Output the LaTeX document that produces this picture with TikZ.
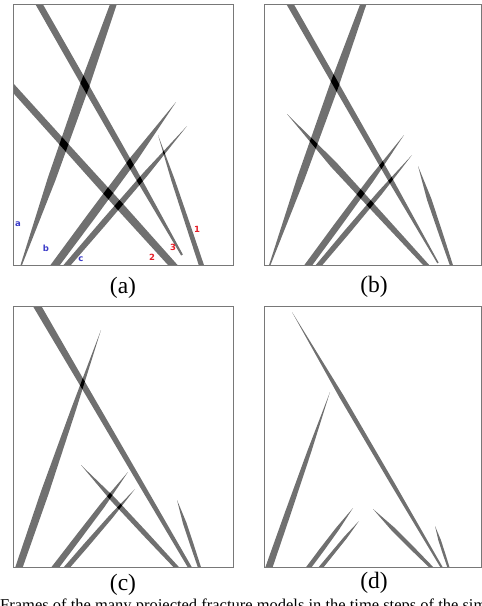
\documentclass[tikz,border=0pt]{standalone}
\usepackage{fontspec}
\setmainfont{Liberation Serif}
\newfontfamily\lblfont{DejaVu Sans}
\usetikzlibrary{calc}
\definecolor{frgray}{RGB}{112,112,112}
\definecolor{framegray}{RGB}{120,120,120}
\definecolor{lblblue}{RGB}{60,60,200}
\definecolor{lblred}{RGB}{230,30,40}
% fracture: P, Q, full widths at t=0, .33, .67, 1
\newcommand\fpath[6]{%
 ($(#1)!#3*0.5pt!90:(#2)$) --
 ($(#1)!0.33!(#2)!#4*0.5pt!90:(#2)$) --
 ($(#1)!0.67!(#2)!#5*0.5pt!90:(#2)$) --
 ($(#2)!#6*0.5pt!-90:(#1)$) --
 ($(#2)!#6*0.5pt!90:(#1)$) --
 ($(#1)!0.67!(#2)!#5*0.5pt!-90:(#2)$) --
 ($(#1)!0.33!(#2)!#4*0.5pt!-90:(#2)$) --
 ($(#1)!#3*0.5pt!-90:(#2)$) -- cycle}
\newcommand\xing[2]{\begin{scope}\clip #1;\fill[black] #2;\end{scope}}
% panel (a)
\def\Aa{\fpath{19.5,270}{117,-6}{1}{8}{9.5}{6}}
\def\Ba{\fpath{35,-3}{182,255}{6.5}{6.5}{5.5}{2}}
\def\Ca{\fpath{5,79}{180,273}{6.5}{7}{8}{7}}
\def\Da{\fpath{50,272}{176,102}{7.5}{8}{7}{0}}
\def\Ea{\fpath{62,271}{187,126}{5.5}{6}{5}{0}}
\def\Fa{\fpath{158,135}{203,270}{0}{3.5}{4.5}{5}}
% panel (b)
\def\Ab{\fpath{268,270}{367,-6}{1}{7.5}{9}{5.5}}
\def\Bb{\fpath{286,-3}{438,263}{6.5}{6}{5}{1.5}}
\def\Cb{\fpath{287,114}{428,267}{0}{7}{6}{4.5}}
\def\Db{\fpath{304,271}{404,135}{6.5}{6.5}{5.5}{0}}
\def\Eb{\fpath{314,271}{412,155}{5}{5.5}{4.5}{0}}
\def\Fb{\fpath{418,166}{452,267}{0}{4.5}{4}{3}}
% panel (c)
\def\Ac{\fpath{17,573}{101,330}{7}{8}{5}{0}}
\def\Bc{\fpath{33,299}{192,571}{7.5}{6}{5}{3.5}}
\def\Cc{\fpath{81,465}{178,569}{0}{5}{5}{4}}
\def\Dc{\fpath{51,573}{128,472}{6.5}{6}{5}{0}}
\def\Ec{\fpath{62,573}{135,489}{5}{5}{4}{0}}
\def\Fc{\fpath{177,500}{200,569}{0}{3.5}{3.5}{3}}
% panel (d)
\def\Ad{\fpath{267,573}{330,392}{7}{6}{4}{0}}
\def\Bd{\fpath{292,312}{442,568}{0}{4.5}{4}{2}}
\def\Cd{\fpath{373,509}{433,569}{0}{4}{4}{3}}
\def\Dd{\fpath{306,571}{353,508}{4.5}{4.5}{3.5}{0}}
\def\Ed{\fpath{318,571}{359,521}{4}{3.5}{3}{0}}
\def\Fd{\fpath{435,526}{449,569}{0}{2.5}{2.5}{2}}
\begin{document}
\begin{tikzpicture}[x=1pt,y=-1pt,
  fr/.style={fill=frgray},
  panel/.style={draw=framegray,line width=0.9pt},
  captext/.style={font=\fontsize{23.5}{26}\selectfont, inner sep=0pt},
  bottomtext/.style={font=\fontsize{16.5}{18}\selectfont, inner sep=0pt},
  lblb/.style={text=lblblue, font=\lblfont\bfseries\fontsize{8.5}{9}\selectfont, inner sep=0pt},
  lblr/.style={text=lblred, font=\lblfont\bfseries\fontsize{8.5}{9}\selectfont, inner sep=0pt}]
\useasboundingbox (0,0) rectangle (482,606);
\clip (0,0) rectangle (482,606);
% ---- (a)
\begin{scope}
\clip (13,4) rectangle (233,265);
\foreach \f in {\Aa,\Ba,\Ca,\Da,\Ea,\Fa} {\fill[fr] \f;}
\xing\Aa\Ba \xing\Aa\Ca \xing\Da\Ba \xing\Ea\Ba \xing\Da\Ca \xing\Ea\Ca \xing\Ea\Fa
\end{scope}
\draw[panel] (13,4) rectangle (233,265);
\node[lblb] (la) at (18,224) {a};
\node[lblb] (lb) at (46,248) {b};
\node[lblb] (lc) at (81,259) {c};
\node[lblr] (l1) at (197,229) {1};
\node[lblr] (l2) at (152,257) {2};
\node[lblr] (l3) at (173,247) {3};
% ---- (b)
\begin{scope}
\clip (264,4) rectangle (481,265);
\foreach \f in {\Ab,\Bb,\Cb,\Db,\Eb,\Fb} {\fill[fr] \f;}
\xing\Ab\Bb \xing\Ab\Cb \xing\Db\Bb \xing\Eb\Bb \xing\Db\Cb \xing\Eb\Cb
\end{scope}
\draw[panel] (264,4) rectangle (481,265);
% ---- (c)
\begin{scope}
\clip (13,306) rectangle (233,567);
\foreach \f in {\Ac,\Bc,\Cc,\Dc,\Ec,\Fc} {\fill[fr] \f;}
\xing\Ac\Bc \xing\Dc\Cc \xing\Ec\Cc
\end{scope}
\draw[panel] (13,306) rectangle (233,567);
% ---- (d)
\begin{scope}
\clip (264,306) rectangle (481,567);
\foreach \f in {\Ad,\Bd,\Cd,\Dd,\Ed,\Fd} {\fill[fr] \f;}
\end{scope}
\draw[panel] (264,306) rectangle (481,567);
% captions
\node[captext] (capa) at (123,288) {(a)};
\node[captext] (capb) at (374,287) {(b)};
\node[captext] (capc) at (123,585) {(c)};
\node[captext] (capd) at (374,583) {(d)};
\node[bottomtext, anchor=base west] (caption) at (0,610.5) {Frames of the many projected fracture models in the time steps of the simulation};
\end{tikzpicture}
\end{document}
